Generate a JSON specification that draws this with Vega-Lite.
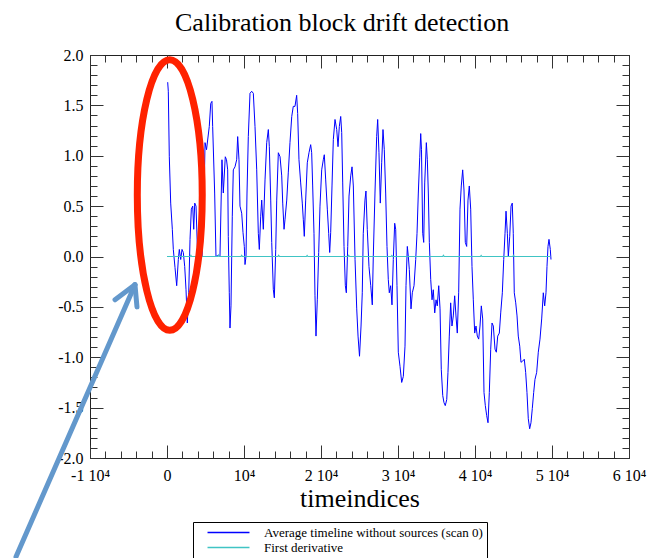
{
  "$schema": "https://vega.github.io/schema/vega-lite/v6.json",
  "width": 539,
  "height": 403,
  "autosize": {"type": "none"},
  "padding": {"left": 90, "top": 55, "right": 19, "bottom": 100},
  "background": "white",
  "title": {"text": "Calibration block drift detection", "font": "Liberation Serif", "fontSize": 26, "fontWeight": "normal", "color": "#000", "anchor": "start", "frame": "group", "dx": 85, "offset": 10},
  "config": {
    "view": {"stroke": "#222", "strokeWidth": 1},
    "axis": {"domain": false, "grid": false, "tickColor": "#333", "tickWidth": 1, "labelFont": "Liberation Serif", "labelFontSize": 16, "labelColor": "#000", "titleFont": "Liberation Serif", "labelFlush": false, "labelOverlap": false}
  },
  "datasets": {
    "avg": [{"t":90,"v":1.73},{"t":170,"v":1.64},{"t":300,"v":0.99},{"t":480,"v":0.53},{"t":690,"v":0.27},{"t":820,"v":0.07},{"t":1040,"v":-0.11},{"t":1260,"v":-0.29},{"t":1470,"v":-0.03},{"t":1600,"v":0.07},{"t":1780,"v":-0.03},{"t":1950,"v":0.07},{"t":2120,"v":0.04},{"t":2300,"v":-0.1},{"t":2470,"v":-0.33},{"t":2640,"v":-0.66},{"t":2820,"v":-0.36},{"t":2990,"v":0.17},{"t":3160,"v":0.47},{"t":3340,"v":0.5},{"t":3470,"v":0.27},{"t":3600,"v":0.53},{"t":3770,"v":0.5},{"t":3940,"v":0.1},{"t":4090,"v":0.0},{"t":4290,"v":0.02},{"t":4550,"v":0.0},{"t":4810,"v":0.56},{"t":4940,"v":1.13},{"t":5130,"v":1.06},{"t":5490,"v":1.29},{"t":5680,"v":1.52},{"t":5840,"v":1.54},{"t":5930,"v":1.29},{"t":6190,"v":0.63},{"t":6360,"v":0.0},{"t":6620,"v":0.01},{"t":6880,"v":0.0},{"t":7140,"v":0.96},{"t":7310,"v":0.63},{"t":7570,"v":0.99},{"t":7730,"v":0.96},{"t":7880,"v":0.86},{"t":7960,"v":0.2},{"t":8090,"v":-0.36},{"t":8180,"v":-0.71},{"t":8310,"v":-0.49},{"t":8480,"v":0.4},{"t":8610,"v":0.86},{"t":8830,"v":0.89},{"t":9050,"v":0.96},{"t":9180,"v":1.19},{"t":9350,"v":0.96},{"t":9480,"v":0.5},{"t":9700,"v":0.43},{"t":9870,"v":0.24},{"t":10040,"v":0.1},{"t":10130,"v":-0.08},{"t":10260,"v":0.0},{"t":10390,"v":0.63},{"t":10560,"v":1.19},{"t":10780,"v":1.62},{"t":11000,"v":1.64},{"t":11210,"v":1.62},{"t":11430,"v":1.29},{"t":11650,"v":0.86},{"t":11860,"v":0.23},{"t":11990,"v":0.07},{"t":12170,"v":0.4},{"t":12300,"v":0.56},{"t":12510,"v":0.27},{"t":12730,"v":0.76},{"t":12950,"v":1.13},{"t":13160,"v":1.26},{"t":13290,"v":1.09},{"t":13470,"v":0.56},{"t":13600,"v":0.14},{"t":13810,"v":-0.33},{"t":13940,"v":-0.41},{"t":14120,"v":0.07},{"t":14250,"v":0.56},{"t":14460,"v":1.03},{"t":14680,"v":0.99},{"t":14900,"v":0.8},{"t":15030,"v":0.53},{"t":15200,"v":0.27},{"t":15330,"v":0.37},{"t":15550,"v":0.56},{"t":15750,"v":0.83},{"t":15970,"v":1.13},{"t":16200,"v":1.39},{"t":16400,"v":1.49},{"t":16620,"v":1.49},{"t":16840,"v":1.6},{"t":16970,"v":1.42},{"t":17140,"v":0.96},{"t":17360,"v":0.73},{"t":17570,"v":0.53},{"t":17700,"v":0.37},{"t":17830,"v":0.2},{"t":18010,"v":0.56},{"t":18220,"v":0.93},{"t":18440,"v":1.03},{"t":18660,"v":1.11},{"t":18790,"v":1.03},{"t":18920,"v":0.7},{"t":19090,"v":0.23},{"t":19220,"v":-0.39},{"t":19350,"v":-0.79},{"t":19520,"v":-0.43},{"t":19700,"v":0.04},{"t":19870,"v":0.5},{"t":20090,"v":0.86},{"t":20300,"v":0.96},{"t":20430,"v":1.01},{"t":20610,"v":0.76},{"t":20820,"v":0.47},{"t":21000,"v":0.23},{"t":21130,"v":0.04},{"t":21260,"v":0.24},{"t":21430,"v":0.7},{"t":21600,"v":1.16},{"t":21820,"v":1.36},{"t":22040,"v":1.26},{"t":22210,"v":1.09},{"t":22380,"v":1.29},{"t":22560,"v":1.39},{"t":22690,"v":1.23},{"t":22820,"v":0.73},{"t":22990,"v":0.1},{"t":23160,"v":-0.29},{"t":23290,"v":-0.36},{"t":23470,"v":0.1},{"t":23640,"v":0.6},{"t":23860,"v":0.8},{"t":24030,"v":0.89},{"t":24200,"v":0.7},{"t":24420,"v":-0.03},{"t":24640,"v":-0.52},{"t":24810,"v":-0.79},{"t":25000,"v":-0.99},{"t":25200,"v":-0.69},{"t":25360,"v":-0.36},{"t":25490,"v":0.23},{"t":25710,"v":0.56},{"t":25840,"v":0.65},{"t":26010,"v":0.27},{"t":26230,"v":-0.1},{"t":26460,"v":-0.29},{"t":26660,"v":-0.48},{"t":26790,"v":0.0},{"t":27010,"v":0.63},{"t":27230,"v":1.19},{"t":27360,"v":1.36},{"t":27530,"v":1.03},{"t":27700,"v":0.53},{"t":27880,"v":0.93},{"t":28050,"v":1.26},{"t":28220,"v":1.06},{"t":28400,"v":0.63},{"t":28570,"v":0.1},{"t":28740,"v":-0.23},{"t":28870,"v":-0.36},{"t":29050,"v":-0.29},{"t":29220,"v":-0.48},{"t":29390,"v":-0.03},{"t":29570,"v":0.33},{"t":29700,"v":0.27},{"t":29870,"v":-0.29},{"t":30040,"v":-0.95},{"t":30260,"v":-1.09},{"t":30480,"v":-1.25},{"t":30690,"v":-1.19},{"t":30910,"v":-0.89},{"t":31040,"v":-0.29},{"t":31210,"v":0.1},{"t":31340,"v":0.0},{"t":31470,"v":-0.13},{"t":31690,"v":-0.52},{"t":31860,"v":-0.36},{"t":32080,"v":-0.29},{"t":32300,"v":-0.03},{"t":32470,"v":0.23},{"t":32640,"v":0.63},{"t":32820,"v":0.98},{"t":32950,"v":1.22},{"t":33050,"v":1.06},{"t":33210,"v":0.23},{"t":33340,"v":0.14},{"t":33470,"v":0.73},{"t":33680,"v":1.13},{"t":33810,"v":0.96},{"t":33940,"v":0.63},{"t":34070,"v":0.14},{"t":34250,"v":-0.23},{"t":34420,"v":-0.43},{"t":34580,"v":-0.33},{"t":34770,"v":-0.56},{"t":34940,"v":-0.43},{"t":35100,"v":-0.49},{"t":35290,"v":-0.29},{"t":35460,"v":-0.52},{"t":35620,"v":-1.12},{"t":35810,"v":-1.38},{"t":35970,"v":-1.45},{"t":36140,"v":-1.48},{"t":36330,"v":-1.42},{"t":36490,"v":-1.15},{"t":36660,"v":-0.79},{"t":36840,"v":-0.46},{"t":37010,"v":-0.69},{"t":37180,"v":-0.59},{"t":37360,"v":-0.39},{"t":37530,"v":-0.59},{"t":37700,"v":-0.76},{"t":37880,"v":-0.36},{"t":38050,"v":0.47},{"t":38220,"v":0.7},{"t":38400,"v":0.86},{"t":38570,"v":0.66},{"t":38740,"v":0.14},{"t":38920,"v":0.1},{"t":39090,"v":0.56},{"t":39260,"v":0.7},{"t":39440,"v":0.47},{"t":39610,"v":-0.1},{"t":39780,"v":-0.43},{"t":39960,"v":-0.76},{"t":40130,"v":-0.69},{"t":40300,"v":-0.79},{"t":40480,"v":-0.82},{"t":40650,"v":-0.69},{"t":40820,"v":-0.49},{"t":41000,"v":-0.62},{"t":41170,"v":-1.35},{"t":41340,"v":-1.48},{"t":41520,"v":-1.58},{"t":41690,"v":-1.65},{"t":41860,"v":-1.35},{"t":42040,"v":-0.92},{"t":42210,"v":-0.66},{"t":42380,"v":-0.69},{"t":42600,"v":-0.92},{"t":42770,"v":-0.95},{"t":42950,"v":-0.79},{"t":43160,"v":-0.76},{"t":43340,"v":-0.56},{"t":43550,"v":-0.36},{"t":43730,"v":-0.03},{"t":43900,"v":0.23},{"t":44030,"v":0.45},{"t":44200,"v":0.23},{"t":44330,"v":0.0},{"t":44510,"v":0.2},{"t":44680,"v":0.5},{"t":44840,"v":0.53},{"t":44970,"v":0.23},{"t":45100,"v":-0.36},{"t":45290,"v":-0.46},{"t":45460,"v":-0.59},{"t":45620,"v":-0.79},{"t":45810,"v":-0.89},{"t":45970,"v":-1.05},{"t":46170,"v":-1.04},{"t":46400,"v":-1.02},{"t":46580,"v":-1.15},{"t":46750,"v":-1.35},{"t":46920,"v":-1.61},{"t":47100,"v":-1.71},{"t":47270,"v":-1.65},{"t":47440,"v":-1.51},{"t":47620,"v":-1.35},{"t":47790,"v":-1.22},{"t":48010,"v":-1.15},{"t":48220,"v":-0.95},{"t":48440,"v":-0.82},{"t":48660,"v":-0.62},{"t":48870,"v":-0.36},{"t":49050,"v":-0.49},{"t":49220,"v":-0.36},{"t":49350,"v":-0.1},{"t":49480,"v":0.1},{"t":49610,"v":0.17},{"t":49780,"v":0.07},{"t":49870,"v":-0.03}],
    "deriv": [{"t":0,"v":0},{"t":3000,"v":0},{"t":3100,"v":0.012},{"t":3200,"v":0},{"t":6600,"v":0},{"t":6700,"v":0.015},{"t":6800,"v":0},{"t":9600,"v":0},{"t":9700,"v":0.012},{"t":9800,"v":0},{"t":14400,"v":0},{"t":14500,"v":0.012},{"t":14600,"v":0},{"t":18100,"v":0},{"t":18200,"v":0.01},{"t":18300,"v":0},{"t":23500,"v":0},{"t":23600,"v":0.012},{"t":23700,"v":0},{"t":29100,"v":0},{"t":29200,"v":0.01},{"t":29300,"v":0},{"t":35800,"v":0},{"t":35900,"v":0.012},{"t":36000,"v":0},{"t":40700,"v":0},{"t":40800,"v":0.01},{"t":40900,"v":0},{"t":44900,"v":0},{"t":45000,"v":0.012},{"t":45100,"v":0},{"t":49800,"v":0}],
    "ellipse": [{"t":360,"v":0.61}],
    "shaft": [{"t":-19610,"v":-2.98,"t2":-4160,"v2":-0.28}],
    "barbs": [{"t":-4160,"v":-0.28,"t2":-6750,"v2":-0.43},{"t":-4160,"v":-0.28,"t2":-3900,"v2":-0.5}]
  },
  "layer": [
    {
      "data": {"name": "avg"},
      "mark": {"type": "line", "strokeWidth": 1, "clip": true},
      "encoding": {
        "x": {"field": "t", "type": "quantitative", "scale": {"domain": [-10000, 60000], "nice": false, "zero": false},
              "axis": {"orient": "bottom", "values": [-10000,0,10000,20000,30000,40000,50000,60000], "tickSize": -13, "labelPadding": 22,
                       "labelExpr": "datum.value == 0 ? '0' : datum.value == 10000 ? '10⁴' : (datum.value < 0 ? '-' : '') + abs(datum.value/10000) + ' 10⁴'",
                       "title": "timeindices", "titleFontSize": 26, "titleFontWeight": "normal", "titleColor": "#000", "titlePadding": 2}},
        "y": {"field": "v", "type": "quantitative", "scale": {"domain": [-2, 2], "nice": false, "zero": false},
              "axis": {"orient": "left", "values": [-2,-1.5,-1,-0.5,0,0.5,1,1.5,2], "tickSize": -13, "labelPadding": 20,
                       "labelExpr": "replace(format(datum.value, '.1f'), '\u2212', '-')", "title": null}},
        "color": {"datum": "Average timeline without sources (scan 0)", "type": "nominal",
                  "scale": {"domain": ["Average timeline without sources (scan 0)", "First derivative"], "range": ["#0000ff", "#40c4c4"]},
                  "legend": {"orient": "none", "legendX": 103, "legendY": 467, "title": null, "symbolType": "M-4,0H4", "symbolSize": 110, "symbolStrokeWidth": 1.5, "symbolOffset": 25, "labelOffset": 29, "labelFont": "Liberation Serif", "labelFontSize": 13, "labelColor": "#000", "labelLimit": 400, "padding": 4, "strokeColor": "#000", "fillColor": "#fff", "rowPadding": 1}}
      }
    },
    {
      "data": {"name": "deriv"},
      "mark": {"type": "line", "strokeWidth": 1.2},
      "encoding": {
        "x": {"field": "t", "type": "quantitative", "scale": {"domain": [-10000, 60000], "nice": false, "zero": false},
              "axis": {"orient": "bottom", "values": [-10000,-8000,-6000,-4000,-2000,0,2000,4000,6000,8000,10000,12000,14000,16000,18000,20000,22000,24000,26000,28000,30000,32000,34000,36000,38000,40000,42000,44000,46000,48000,50000,52000,54000,56000,58000,60000], "tickSize": -7, "labels": false, "title": null}},
        "y": {"field": "v", "type": "quantitative", "scale": {"domain": [-2, 2], "nice": false, "zero": false},
              "axis": {"orient": "left", "values": [-2,-1.9,-1.8,-1.7,-1.6,-1.5,-1.4,-1.3,-1.2,-1.1,-1,-0.9,-0.8,-0.7,-0.6,-0.5,-0.4,-0.3,-0.2,-0.1,0,0.1,0.2,0.3,0.4,0.5,0.6,0.7,0.8,0.9,1,1.1,1.2,1.3,1.4,1.5,1.6,1.7,1.8,1.9,2], "tickSize": -7, "labels": false, "title": null}},
        "color": {"datum": "First derivative", "type": "nominal",
                  "scale": {"domain": ["Average timeline without sources (scan 0)", "First derivative"], "range": ["#0000ff", "#40c4c4"]},
                  "legend": {"orient": "none", "legendX": 103, "legendY": 467, "title": null, "symbolType": "M-4,0H4", "symbolSize": 110, "symbolStrokeWidth": 1.5, "symbolOffset": 25, "labelOffset": 29, "labelFont": "Liberation Serif", "labelFontSize": 13, "labelColor": "#000", "labelLimit": 400, "padding": 4, "strokeColor": "#000", "fillColor": "#fff", "rowPadding": 1}}
      }
    },
    {
      "data": {"name": "ellipse"},
      "mark": {"type": "point", "shape": "M0,-1C0.1325,-1,0.24,-0.5523,0.24,0C0.24,0.5523,0.1325,1,0,1C-0.1325,1,-0.24,0.5523,-0.24,0C-0.24,-0.5523,-0.1325,-1,0,-1Z", "size": 73225, "filled": false, "stroke": "#ff2200", "strokeWidth": 7, "opacity": 1},
      "encoding": {
        "x": {"field": "t", "type": "quantitative", "scale": {"domain": [-10000, 60000], "nice": false, "zero": false},
              "axis": {"orient": "top", "values": [-10000,0,10000,20000,30000,40000,50000,60000], "tickSize": -13, "labels": false, "title": null}},
        "y": {"field": "v", "type": "quantitative", "scale": {"domain": [-2, 2], "nice": false, "zero": false},
              "axis": {"orient": "right", "values": [-2,-1.5,-1,-0.5,0,0.5,1,1.5,2], "tickSize": -13, "labels": false, "title": null}}
      }
    },
    {
      "data": {"name": "shaft"},
      "mark": {"type": "rule", "stroke": "#6398cc", "strokeWidth": 5, "strokeCap": "round"},
      "encoding": {
        "x": {"field": "t", "type": "quantitative", "scale": {"domain": [-10000, 60000], "nice": false, "zero": false},
              "axis": {"orient": "top", "values": [-10000,-8000,-6000,-4000,-2000,0,2000,4000,6000,8000,10000,12000,14000,16000,18000,20000,22000,24000,26000,28000,30000,32000,34000,36000,38000,40000,42000,44000,46000,48000,50000,52000,54000,56000,58000,60000], "tickSize": -7, "labels": false, "title": null}},
        "x2": {"field": "t2"},
        "y": {"field": "v", "type": "quantitative", "scale": {"domain": [-2, 2], "nice": false, "zero": false},
              "axis": {"orient": "right", "values": [-2,-1.9,-1.8,-1.7,-1.6,-1.5,-1.4,-1.3,-1.2,-1.1,-1,-0.9,-0.8,-0.7,-0.6,-0.5,-0.4,-0.3,-0.2,-0.1,0,0.1,0.2,0.3,0.4,0.5,0.6,0.7,0.8,0.9,1,1.1,1.2,1.3,1.4,1.5,1.6,1.7,1.8,1.9,2], "tickSize": -7, "labels": false, "title": null}},
        "y2": {"field": "v2"}
      }
    },
    {
      "data": {"name": "barbs"},
      "mark": {"type": "rule", "stroke": "#6398cc", "strokeWidth": 5, "strokeCap": "round"},
      "encoding": {
        "x": {"field": "t", "type": "quantitative", "scale": {"domain": [-10000, 60000], "nice": false, "zero": false}, "axis": null},
        "x2": {"field": "t2"},
        "y": {"field": "v", "type": "quantitative", "scale": {"domain": [-2, 2], "nice": false, "zero": false}, "axis": null},
        "y2": {"field": "v2"}
      }
    }
  ],
  "resolve": {"axis": {"x": "independent", "y": "independent"}}
}
